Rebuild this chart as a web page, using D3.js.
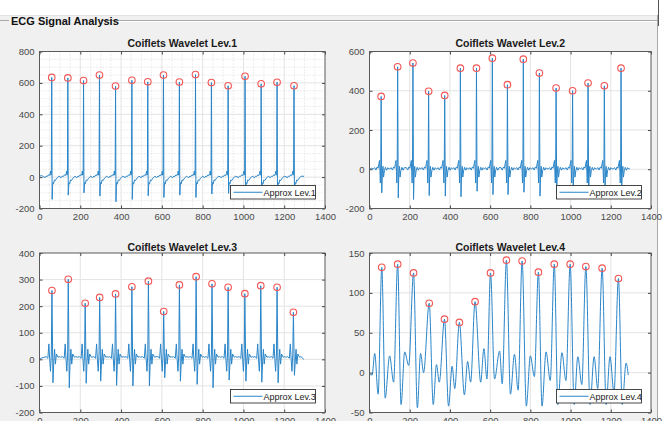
<!DOCTYPE html>
<html>
<head>
<meta charset="utf-8">
<script src="https://cdn.jsdelivr.net/npm/d3@7"></script>
<style>
  body { margin: 0; background: #fff; }
  svg { display: block; }
  text { font-family: "Liberation Sans", Arial, Helvetica, sans-serif; }
</style>
</head>
<body>
<svg id="fig" width="665" height="421"></svg>
<script>
// ---- shared axis ticks ----
const xTicks = [0, 200, 400, 600, 800, 1000, 1200, 1400];
const lev1YTicks = [-200, 0, 200, 400, 600, 800];
const lev2YTicks = [-200, 0, 200, 400, 600];
const lev3YTicks = [-200, -100, 0, 100, 200, 300, 400];
const lev4YTicks = [-50, 0, 50, 100, 150];

// ---- Lev.1 approximation: R-peaks, S-troughs and the beat shape ----
const lev1PeakX = [60, 139, 216, 294, 373, 453, 531, 608, 686, 765, 843, 925, 1008, 1087, 1165, 1248];
const lev1PeakY = [635, 632, 615, 650, 580, 617, 607, 650, 605, 653, 602, 582, 642, 594, 604, 582];
const lev1Trough = [-142, -115, -100, -121, -157, -142, -119, -130, -115, -130, -108, -104, -110, -105, -110, -100];
const lev1Pre = [[-39, 2], [-33, -4], [-28, 6], [-22, 4], [-17, 14], [-12, 10], [-8, 22], [-6, 38], [-4, 12], [-2, 18]];
const lev1Post = [[4, -60], [6, -35], [9, -42], [13, -18], [18, -22], [24, -8], [30, -2], [35, 6]];
const lev1Start = [[0, 5], [10, 10]];
const lev1End = [[1297, 5]];

// ---- Lev.2 approximation ----
const lev2PeakX = [58, 140, 216, 294, 374, 452, 532, 611, 686, 765, 845, 928, 1010, 1087, 1168, 1251];
const lev2PeakY = [371, 522, 541, 397, 376, 515, 515, 566, 431, 561, 490, 414, 400, 439, 425, 515];
const lev2Trough = [-120, -146, -154, -134, -137, -140, -112, -129, -129, -117, -137, -120, -115, -125, -120, -110];
const lev2Pre = [[-39, 2], [-32, 8], [-26, -4], [-20, 12], [-15, 5], [-11, 30], [-8, 45], [-6, -10], [-4, -70], [-2, 30]];
const lev2Post = [[6, -20], [9, 15], [12, -40], [16, -8], [21, 10], [27, -5], [33, 8], [38, 2]];
const lev2Start = [[0, 0], [10, 5]];
const lev2End = [[1295, 2]];

// ---- Lev.3 approximation ----
const lev3PeakX = [61, 141, 224, 295, 373, 453, 534, 609, 686, 768, 846, 925, 1007, 1085, 1165, 1245];
const lev3PeakY = [259, 301, 211, 233, 246, 273, 294, 180, 280, 311, 284, 271, 247, 277, 271, 177];
const lev3Trough = [-88, -107, -90, -82, -98, -100, -100, -69, -82, -94, -107, -78, -82, -86, -88, -60];
const lev3Pre = [[-38, 8], [-28, 10], [-20, 4], [-15, 58], [-11, 0], [-7, -45], [-3, 20]];
const lev3Post = [[9, -10], [13, 38], [17, -18], [22, 20], [30, 8], [37, 10]];
const lev3Start = [[0, 0], [10, 5]];
const lev3End = [[1296, 0]];

// ---- Lev.4 approximation: peaks plus the turning points between them ----
const lev4PeakX = [61, 140, 219, 297, 373, 447, 525, 602, 681, 759, 840, 919, 998, 1076, 1157, 1238];
const lev4PeakY = [132, 136, 125, 87, 67, 63, 89, 125, 141, 140, 126, 136, 136, 133, 131, 118];
const lev4TurnX = [0, 13, 26, 43, 78, 100, 120, 157, 175, 195, 238, 254, 269, 317, 333, 347,
  393, 411, 424, 472, 488, 503, 553, 569, 584, 622, 647, 660, 701, 721, 739, 780, 800, 820,
  858, 878, 899, 937, 957, 977, 1018, 1036, 1056, 1097, 1117, 1135, 1177, 1196, 1216, 1257, 1276, 1287];
const lev4TurnY = [-2, -3, 24, -27, -32, 21, -12, -40, 26, 9, -44, 24, 0, -40, 10, -12,
  -42, 8, -20, -28, 14, -12, -12, 30, -8, -8, 27, -14, -27, 23, -22, -42, 21, -5,
  -42, 26, -10, -40, 25, -10, -40, 20, -15, -40, 20, -20, -40, 20, -25, -40, 12, -3];

const LINE = "#2a85c8";
const PEAK = "#f25555";

// Lay the beat shape around each R-peak and join everything into one trace.
function beatTrace(peakX, peakY, troughY, pre, troughOffset, post, start, end) {
  const pts = start.slice();
  peakX.forEach((px, i) => {
    const prevGap = i > 0 ? px - peakX[i - 1] : Infinity;
    const nextGap = i < peakX.length - 1 ? peakX[i + 1] - px : Infinity;
    pre.forEach(([o, v]) => { if (-o < prevGap / 2) pts.push([px + o, v]); });
    pts.push([px, peakY[i]]);
    pts.push([px + troughOffset, troughY[i]]);
    post.forEach(([o, v]) => { if (o < nextGap / 2) pts.push([px + o, v]); });
  });
  end.forEach(p => pts.push(p));
  return pts.sort((a, b) => a[0] - b[0]);
}

const lev4Trace = lev4TurnX.map((x, i) => [x, lev4TurnY[i]])
  .concat(lev4PeakX.map((x, i) => [x, lev4PeakY[i]]))
  .sort((a, b) => a[0] - b[0]);

const panels = [
  { id: 1, title: "Coiflets Wavelet Lev.1", left: 39.5, right: 325, top: 51.5, bottom: 208.5,
    yDomain: [-200, 800], yTicks: lev1YTicks, minor: true, label: "Approx Lev.1",
    trace: beatTrace(lev1PeakX, lev1PeakY, lev1Trough, lev1Pre, 2, lev1Post, lev1Start, lev1End),
    curve: d3.curveLinear, peaksX: lev1PeakX, peaksY: lev1PeakY, titleY: 46.5 },
  { id: 2, title: "Coiflets Wavelet Lev.2", left: 369.5, right: 651, top: 51.5, bottom: 208.5,
    yDomain: [-200, 600], yTicks: lev2YTicks, minor: false, label: "Approx Lev.2",
    trace: beatTrace(lev2PeakX, lev2PeakY, lev2Trough, lev2Pre, 3, lev2Post, lev2Start, lev2End),
    curve: d3.curveLinear, peaksX: lev2PeakX, peaksY: lev2PeakY, titleY: 46.5 },
  { id: 3, title: "Coiflets Wavelet Lev.3", left: 39.5, right: 325, top: 253, bottom: 412.5,
    yDomain: [-200, 400], yTicks: lev3YTicks, minor: false, label: "Approx Lev.3",
    trace: beatTrace(lev3PeakX, lev3PeakY, lev3Trough, lev3Pre, 5, lev3Post, lev3Start, lev3End),
    curve: d3.curveLinear, peaksX: lev3PeakX, peaksY: lev3PeakY, titleY: 250.5 },
  { id: 4, title: "Coiflets Wavelet Lev.4", left: 369.5, right: 651, top: 253, bottom: 412.5,
    yDomain: [-50, 150], yTicks: lev4YTicks, minor: false, label: "Approx Lev.4",
    trace: lev4Trace, curve: d3.curveMonotoneX, peaksX: lev4PeakX, peaksY: lev4PeakY, titleY: 250.5 }
];

const svg = d3.select("#fig");
const plain = d => String(d).replace("\u2212", "-");

// Figure panel frame
svg.append("rect").attr("x", 0).attr("y", 15).attr("width", 658).attr("height", 406).attr("fill", "#f0f0f0");
svg.append("line").attr("x1", 0).attr("x2", 658).attr("y1", 15.5).attr("y2", 15.5).attr("stroke", "#e2e2e2");
svg.append("line").attr("x1", 0).attr("x2", 9).attr("y1", 20.5).attr("y2", 20.5).attr("stroke", "#a8a8a8");
svg.append("line").attr("x1", 101).attr("x2", 657).attr("y1", 20.5).attr("y2", 20.5).attr("stroke", "#a8a8a8");
svg.append("line").attr("x1", 101).attr("x2", 657).attr("y1", 21.5).attr("y2", 21.5).attr("stroke", "#ffffff");
svg.append("line").attr("x1", 657.5).attr("x2", 657.5).attr("y1", 15).attr("y2", 421).attr("stroke", "#a8a8a8");
svg.append("line").attr("x1", 658.5).attr("x2", 658.5).attr("y1", 0).attr("y2", 26).attr("stroke", "#555");
svg.append("text").attr("x", 11).attr("y", 24.5).attr("font-size", 11).attr("font-weight", "bold")
  .attr("fill", "#111").text("ECG Signal Analysis");

const defs = svg.append("defs");

panels.forEach(p => {
  const x = d3.scaleLinear().domain([0, 1400]).range([p.left, p.right]);
  const y = d3.scaleLinear().domain(p.yDomain).range([p.bottom, p.top]);
  const g = svg.append("g");

  g.append("rect").attr("x", p.left).attr("y", p.top)
    .attr("width", p.right - p.left).attr("height", p.bottom - p.top).attr("fill", "#fff");

  // minor grid (dotted)
  if (p.minor) {
    const mx = d3.range(0, 1401, 50).filter(v => v % 200 !== 0);
    const my = d3.range(p.yDomain[0], p.yDomain[1] + 1, 50).filter(v => v % 200 !== 0);
    g.selectAll(".mgx").data(mx).join("line")
      .attr("x1", d => x(d)).attr("x2", d => x(d)).attr("y1", p.top).attr("y2", p.bottom)
      .attr("stroke", "#d4d4d4").attr("stroke-width", 0.8).attr("stroke-dasharray", "1,2");
    g.selectAll(".mgy").data(my).join("line")
      .attr("y1", d => y(d)).attr("y2", d => y(d)).attr("x1", p.left).attr("x2", p.right)
      .attr("stroke", "#d4d4d4").attr("stroke-width", 0.8).attr("stroke-dasharray", "1,2");
  }
  // major grid
  g.selectAll(".gx").data(xTicks.slice(1, -1)).join("line")
    .attr("x1", d => x(d)).attr("x2", d => x(d)).attr("y1", p.top).attr("y2", p.bottom)
    .attr("stroke", "#e3e3e3").attr("stroke-width", 1);
  g.selectAll(".gy").data(p.yTicks.slice(1, -1)).join("line")
    .attr("y1", d => y(d)).attr("y2", d => y(d)).attr("x1", p.left).attr("x2", p.right)
    .attr("stroke", "#e3e3e3").attr("stroke-width", 1);

  // signal
  const clipId = "clip" + p.id;
  defs.append("clipPath").attr("id", clipId).append("rect")
    .attr("x", p.left).attr("y", p.top).attr("width", p.right - p.left).attr("height", p.bottom - p.top);
  const line = d3.line().x(d => x(d[0])).y(d => y(d[1])).curve(p.curve);
  g.append("path").attr("clip-path", `url(#${clipId})`).attr("d", line(p.trace))
    .attr("fill", "none").attr("stroke", LINE).attr("stroke-width", 1).attr("stroke-linejoin", "round");

  // detected peaks
  g.selectAll(".pk").data(p.peaksX.map((v, i) => [v, p.peaksY[i]])).join("circle")
    .attr("cx", d => x(d[0])).attr("cy", d => y(d[1])).attr("r", 3.3)
    .attr("fill", "none").attr("stroke", PEAK).attr("stroke-width", 1.1);

  // axes with inward ticks on all four sides
  const styleAxis = sel => {
    sel.select(".domain").remove();
    sel.selectAll(".tick line").attr("stroke", "#444");
    sel.selectAll(".tick text").attr("fill", "#4a4a4a").attr("font-size", 9.5)
      .attr("font-family", "\"Liberation Sans\", Arial, sans-serif");
  };
  g.append("g").attr("transform", `translate(0,${p.bottom})`)
    .call(d3.axisBottom(x).tickValues(xTicks).tickFormat(plain)
      .tickSizeInner(-3).tickSizeOuter(0).tickPadding(4.5))
    .call(styleAxis);
  g.append("g").attr("transform", `translate(0,${p.top})`)
    .call(d3.axisTop(x).tickValues(xTicks).tickSizeInner(-3).tickSizeOuter(0).tickFormat(() => ""))
    .call(styleAxis);
  g.append("g").attr("transform", `translate(${p.left},0)`)
    .call(d3.axisLeft(y).tickValues(p.yTicks).tickFormat(plain)
      .tickSizeInner(-3).tickSizeOuter(0).tickPadding(5))
    .call(styleAxis);
  g.append("g").attr("transform", `translate(${p.right},0)`)
    .call(d3.axisRight(y).tickValues(p.yTicks).tickSizeInner(-3).tickSizeOuter(0).tickFormat(() => ""))
    .call(styleAxis);

  g.append("rect").attr("x", p.left).attr("y", p.top)
    .attr("width", p.right - p.left).attr("height", p.bottom - p.top)
    .attr("fill", "none").attr("stroke", "#5a5a5a").attr("stroke-width", 1);

  // title
  g.append("text").attr("x", (p.left + p.right) / 2).attr("y", p.titleY)
    .attr("text-anchor", "middle").attr("font-size", 10.5).attr("font-weight", "bold")
    .attr("fill", "#1a1a1a").text(p.title);

  // legend
  const lw = 85, lh = 13.5;
  const lx = p.right - 9.5 - lw, ly = p.bottom - 9.5 - lh;
  g.append("rect").attr("x", lx).attr("y", ly).attr("width", lw).attr("height", lh)
    .attr("fill", "#fff").attr("stroke", "#333").attr("stroke-width", 0.9);
  g.append("line").attr("x1", lx + 3).attr("x2", lx + 32).attr("y1", ly + lh / 2).attr("y2", ly + lh / 2)
    .attr("stroke", LINE).attr("stroke-width", 1);
  g.append("text").attr("x", lx + 33).attr("y", ly + lh / 2 + 3.3)
    .attr("font-size", 9).attr("fill", "#222").text(p.label);
});
</script>
</body>
</html>
